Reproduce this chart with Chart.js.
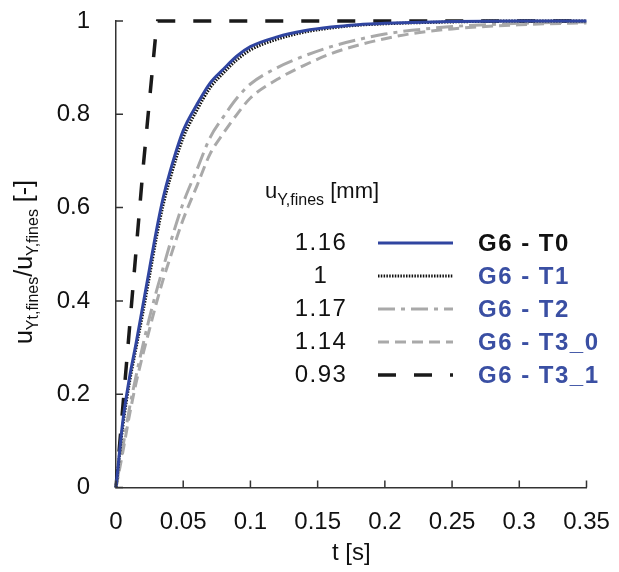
<!DOCTYPE html>
<html>
<head>
<meta charset="utf-8">
<script src="https://cdn.jsdelivr.net/npm/chart.js@4.4.0/dist/chart.umd.min.js"></script>
<style>
  html, body { margin: 0; padding: 0; background: #fff; }
  #wrap { width: 619px; height: 572px; }
</style>
</head>
<body>
<div id="wrap"><canvas id="dispChart" width="619" height="572"></canvas></div>
<script>
// Time grid [s] shared by the four smooth curves
const times = [0, 0.005, 0.01, 0.015, 0.02, 0.025, 0.03, 0.035, 0.04, 0.05, 0.06, 0.07,
    0.08, 0.09, 0.1, 0.12, 0.14, 0.16, 0.18, 0.2, 0.22, 0.25, 0.3, 0.35];

// Normalised displacement u_Yt,fines / u_Y,fines
const g6T0 = [0, 0.14, 0.235, 0.31, 0.39, 0.47, 0.55, 0.62, 0.675, 0.765, 0.82, 0.867,
    0.897, 0.925, 0.945, 0.966, 0.979, 0.987, 0.992, 0.995, 0.997, 0.999, 1, 1];
const g6T1 = [0, 0.13, 0.225, 0.3, 0.375, 0.455, 0.535, 0.605, 0.66, 0.75, 0.808, 0.857,
    0.889, 0.917, 0.938, 0.961, 0.976, 0.985, 0.991, 0.994, 0.996, 0.998, 1, 1];
const g6T2 = [0, 0.085, 0.17, 0.24, 0.305, 0.365, 0.42, 0.47, 0.52, 0.61, 0.68, 0.75,
    0.795, 0.835, 0.865, 0.9, 0.925, 0.945, 0.96, 0.972, 0.98, 0.988, 0.995, 0.998];
const g6T3_0 = [0, 0.075, 0.155, 0.225, 0.285, 0.34, 0.395, 0.445, 0.49, 0.575, 0.645, 0.715,
    0.76, 0.8, 0.835, 0.875, 0.905, 0.93, 0.948, 0.962, 0.973, 0.983, 0.992, 0.996];

// T3_1 rises almost linearly, so it has its own points
const timesT3_1 = [0, 0.01, 0.02, 0.03, 0.031, 0.35];
const g6T3_1 = [0, 0.34, 0.68, 0.985, 1, 1];

// Legend: final displacement u_Y,fines [mm] and test names
const seriesNames = ['G6 - T0', 'G6 - T1', 'G6 - T2', 'G6 - T3_0', 'G6 - T3_1'];
const uFines = [1.16, 1, 1.17, 1.14, 0.93];

const xTickLabels = ['0', '0.05', '0.1', '0.15', '0.2', '0.25', '0.3', '0.35'];
const yTickLabels = ['0', '0.2', '0.4', '0.6', '0.8', '1'];

const FONT = "'Liberation Sans', Arial, Helvetica, sans-serif";
const BLUE = '#3045a0';
const LABEL_BLUE = '#3a4fa3';
const GREY = '#a9a9a9';

function toPoints(xs, ys) {
    return xs.map((t, i) => ({ x: t, y: ys[i] }));
}

// draw text made of runs with different size / vertical shift (for subscripts)
function drawRuns(ctx, runs, x, y, centred) {
    let total = 0;
    runs.forEach(r => {
        ctx.font = r.size + 'px ' + FONT;
        total += ctx.measureText(r.text).width;
    });
    let cx = centred ? x - total / 2 : x;
    ctx.textAlign = 'left';
    ctx.textBaseline = 'alphabetic';
    runs.forEach(r => {
        ctx.font = r.size + 'px ' + FONT;
        ctx.fillText(r.text, cx, y + (r.dy || 0));
        cx += ctx.measureText(r.text).width;
    });
}

// keep the chart area where the layout padding puts it
function noLabelPadding(s) {
    s.paddingTop = 0;
    s.paddingBottom = 0;
    s.paddingLeft = 0;
    s.paddingRight = 0;
}

const decorations = {
    id: 'decorations',
    afterDraw(chart) {
        const { ctx, chartArea: a, scales: { x, y } } = chart;
        ctx.save();

        // inward tick marks
        ctx.strokeStyle = '#333';
        ctx.lineWidth = 1.5;
        ctx.setLineDash([]);
        ctx.beginPath();
        x.ticks.forEach(t => {
            const px = x.getPixelForValue(t.value);
            ctx.moveTo(px, a.bottom);
            ctx.lineTo(px, a.bottom - 7);
        });
        y.ticks.forEach(t => {
            const py = y.getPixelForValue(t.value);
            ctx.moveTo(a.left, py);
            ctx.lineTo(a.left + 7, py);
        });
        ctx.stroke();

        // y axis title with subscripts
        ctx.fillStyle = '#111';
        ctx.save();
        ctx.translate(32, 262);
        ctx.rotate(-Math.PI / 2);
        drawRuns(ctx, [
            { text: 'u', size: 25 },
            { text: 'Yt,fines', size: 16, dy: 6 },
            { text: '/u', size: 25 },
            { text: 'Y,fines', size: 16, dy: 6 },
            { text: ' [-]', size: 25 }
        ], 0, 0, true);
        ctx.restore();

        // legend header
        drawRuns(ctx, [
            { text: 'u', size: 22 },
            { text: 'Y,fines', size: 16, dy: 7 },
            { text: ' [mm]', size: 22 }
        ], 265, 198, false);

        // legend rows
        chart.data.datasets.forEach((ds, i) => {
            const rowY = 243 + i * 33;
            ctx.letterSpacing = '1.5px';
            ctx.font = '24px ' + FONT;
            ctx.fillStyle = '#111';
            ctx.textAlign = 'center';
            ctx.textBaseline = 'middle';
            ctx.fillText(String(uFines[i]), 321, rowY);

            ctx.strokeStyle = ds.borderColor;
            ctx.lineWidth = ds.borderWidth;
            ctx.setLineDash(ds.borderDash || []);
            ctx.beginPath();
            ctx.moveTo(378, rowY);
            ctx.lineTo(453, rowY);
            ctx.stroke();

            ctx.setLineDash([]);
            ctx.font = 'bold 24px ' + FONT;
            ctx.fillStyle = i === 0 ? '#111' : LABEL_BLUE;
            ctx.textAlign = 'left';
            ctx.fillText(seriesNames[i], 478, rowY + 1);
            ctx.letterSpacing = '0px';
        });

        ctx.restore();
    }
};

const lineCommon = { pointRadius: 0, fill: false, clip: false, cubicInterpolationMode: 'monotone' };

const ctx = document.getElementById('dispChart').getContext('2d');
const dispChart = new Chart(ctx, {
    type: 'line',
    data: {
        datasets: [
            { ...lineCommon, label: seriesNames[0], data: toPoints(times, g6T0),
              borderColor: BLUE, borderWidth: 3 },
            { ...lineCommon, label: seriesNames[1], data: toPoints(times, g6T1),
              borderColor: '#111', borderWidth: 3, borderDash: [1.5, 1.3] },
            { ...lineCommon, label: seriesNames[2], data: toPoints(times, g6T2),
              borderColor: GREY, borderWidth: 3, borderDash: [17, 6, 4, 6] },
            { ...lineCommon, label: seriesNames[3], data: toPoints(times, g6T3_0),
              borderColor: GREY, borderWidth: 3, borderDash: [11, 6] },
            { ...lineCommon, label: seriesNames[4], data: toPoints(timesT3_1, g6T3_1),
              borderColor: '#1a1a1a', borderWidth: 3.5, borderDash: [18, 18],
              cubicInterpolationMode: 'default', tension: 0 }
        ]
    },
    options: {
        responsive: false,
        animation: false,
        layout: { padding: { left: 0, right: 32.5, top: 21, bottom: 0 } },
        plugins: {
            legend: { display: false },
            tooltip: { enabled: false }
        },
        scales: {
            x: {
                type: 'linear',
                min: 0,
                max: 0.35,
                afterFit: s => { s.height = 84.5; noLabelPadding(s); },
                grid: { display: false },
                border: { display: true, color: '#333', width: 1.5 },
                ticks: {
                    stepSize: 0.05,
                    padding: 12,
                    color: '#111',
                    font: { family: FONT, size: 24 },
                    maxRotation: 0,
                    callback: (v, i) => xTickLabels[i]
                },
                title: {
                    display: true,
                    text: 't [s]',
                    color: '#111',
                    font: { family: FONT, size: 24 },
                    padding: { top: 0, bottom: 4 }
                }
            },
            y: {
                min: 0,
                max: 1,
                afterFit: s => { s.width = 116; noLabelPadding(s); },
                grid: { display: false },
                border: { display: true, color: '#333', width: 1.5 },
                ticks: {
                    stepSize: 0.2,
                    padding: 18,
                    color: '#111',
                    font: { family: FONT, size: 24 },
                    callback: (v, i) => yTickLabels[i]
                }
            }
        }
    },
    plugins: [decorations]
});
</script>
</body>
</html>
